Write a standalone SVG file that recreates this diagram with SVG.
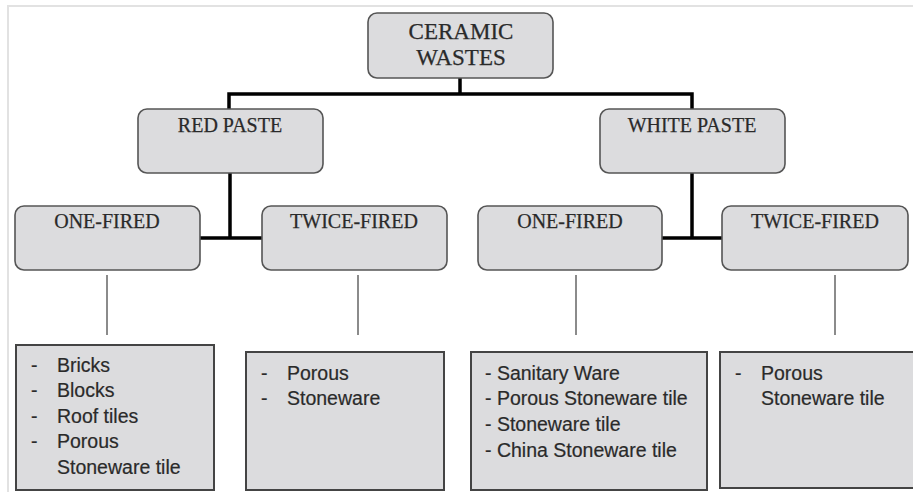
<svg xmlns="http://www.w3.org/2000/svg" width="913" height="492" viewBox="0 0 913 492">
<style>
.frame{fill:none;stroke:#e2e2e2;stroke-width:2}
.node{fill:#dcdcde;stroke:#555;stroke-width:1.6}
.list{fill:#dcdcde;stroke:#444;stroke-width:2}
.hd{font-family:"Liberation Serif","Times New Roman",serif;font-size:20px;fill:#2a2a2a;stroke:#2a2a2a;stroke-width:0.25;text-anchor:middle}
.big{font-size:23px}
.it{font-family:"Liberation Sans",Arial,sans-serif;font-size:19.5px;fill:#2a2a2a;stroke:#2a2a2a;stroke-width:0.2}
.thick{fill:none;stroke:#000;stroke-width:3.5}
.thin{fill:none;stroke:#666;stroke-width:1.5}
</style>
<rect width="913" height="492" fill="#fff"/>
<path class="frame" d="M8 492 V6 H913"/>
<g id="connectors">
<path class="thick" d="M460 78 V94 M229 109 V94 H692 V109"/>
<path class="thick" d="M230 173 V238 M200 238 H262"/>
<path class="thick" d="M692 173 V238 M662 238 H722"/>
<path class="thin" d="M107 275 V335 M358 275 V335 M576 275 V335 M835 275 V335"/>
</g>
<g id="ceramic-wastes">
<rect class="node" x="368" y="13" width="185" height="65" rx="9"/>
<text class="hd big" x="461" y="39">CERAMIC</text>
<text class="hd big" x="461" y="65">WASTES</text>
</g>
<g id="red-paste">
<rect class="node" x="138" y="109" width="185" height="64" rx="9"/>
<text class="hd" x="230" y="132">RED PASTE</text>
</g>
<g id="white-paste">
<rect class="node" x="600" y="109" width="185" height="64" rx="9"/>
<text class="hd" x="692" y="132">WHITE PASTE</text>
</g>
<g id="red-one-fired">
<rect class="node" x="15" y="206" width="185" height="64" rx="9"/>
<text class="hd" x="107" y="228">ONE-FIRED</text>
</g>
<g id="red-twice-fired">
<rect class="node" x="262" y="206" width="185" height="64" rx="9"/>
<text class="hd" x="354" y="228">TWICE-FIRED</text>
</g>
<g id="white-one-fired">
<rect class="node" x="478" y="206" width="184" height="64" rx="9"/>
<text class="hd" x="570" y="228">ONE-FIRED</text>
</g>
<g id="white-twice-fired">
<rect class="node" x="722" y="206" width="186" height="64" rx="9"/>
<text class="hd" x="815" y="228">TWICE-FIRED</text>
</g>
<g id="list-red-one">
<rect class="list" x="16" y="345" width="198" height="145"/>
<text class="it" x="31" y="372">-</text><text class="it" x="57" y="372">Bricks</text>
<text class="it" x="31" y="397">-</text><text class="it" x="57" y="397">Blocks</text>
<text class="it" x="31" y="423">-</text><text class="it" x="57" y="423">Roof tiles</text>
<text class="it" x="31" y="448">-</text><text class="it" x="57" y="448">Porous</text>
<text class="it" x="57" y="474">Stoneware tile</text>
</g>
<g id="list-red-twice">
<rect class="list" x="246" y="352" width="198" height="138"/>
<text class="it" x="261" y="380">-</text><text class="it" x="287" y="380">Porous</text>
<text class="it" x="261" y="405">-</text><text class="it" x="287" y="405">Stoneware</text>
</g>
<g id="list-white-one">
<rect class="list" x="471" y="352" width="236" height="138"/>
<text class="it" x="485" y="380">- Sanitary Ware</text>
<text class="it" x="485" y="405">- Porous Stoneware tile</text>
<text class="it" x="485" y="431">- Stoneware tile</text>
<text class="it" x="485" y="457">- China Stoneware tile</text>
</g>
<g id="list-white-twice">
<rect class="list" x="720" y="352" width="200" height="136"/>
<text class="it" x="735" y="380">-</text><text class="it" x="761" y="380">Porous</text>
<text class="it" x="761" y="405">Stoneware tile</text>
</g>
</svg>
